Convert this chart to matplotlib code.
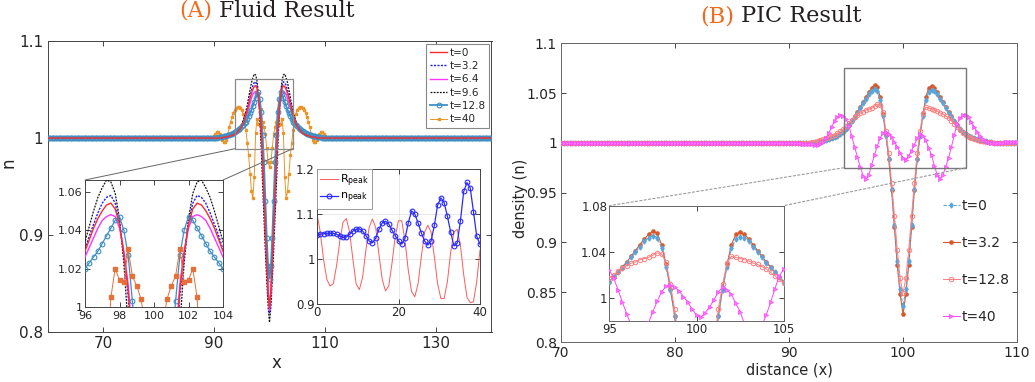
import numpy as np
import matplotlib
matplotlib.use("Agg")
import matplotlib.pyplot as plt
from matplotlib.patches import Rectangle, ConnectionPatch
from matplotlib.ticker import FuncFormatter

# ---------------- data: fluid result (x step 0.25 in the core 90..110) ----------------
fluid_x_core = np.arange(90.0, 110.001, 0.25)
fluid_x_left = np.arange(60.0, 90.0, 0.25)
fluid_x_right = np.arange(110.25, 140.001, 0.25)
fluid_baseline = 1.0

fluid_t0 = [1.000, 1.000, 1.000, 1.000, 1.000, 1.000, 1.000, 1.001, 1.001, 1.001,
            1.001, 1.002, 1.002, 1.003, 1.003, 1.004, 1.005, 1.006, 1.008, 1.010,
            1.012, 1.015, 1.019, 1.024, 1.029, 1.035, 1.041, 1.046, 1.050, 1.053,
            1.054, 1.051, 1.043, 1.028, 1.009, 0.978, 0.941, 0.905, 0.871, 0.842,
            0.825,
            0.842, 0.871, 0.905, 0.941, 0.978, 1.009, 1.028, 1.043, 1.051, 1.054,
            1.053, 1.050, 1.046, 1.041, 1.035, 1.029, 1.024, 1.019, 1.015, 1.012,
            1.010, 1.008, 1.006, 1.005, 1.004, 1.003, 1.003, 1.002, 1.002, 1.001,
            1.001, 1.001, 1.001, 1.000, 1.000, 1.000, 1.000, 1.000, 1.000, 1.000]

fluid_t32 = [1.000, 1.000, 1.000, 1.000, 1.000, 1.000, 1.000, 1.001, 1.001, 1.001,
             1.001, 1.002, 1.002, 1.003, 1.003, 1.004, 1.005, 1.006, 1.008, 1.010,
             1.013, 1.016, 1.020, 1.025, 1.030, 1.037, 1.043, 1.049, 1.054, 1.057,
             1.058, 1.054, 1.044, 1.027, 1.006, 0.973, 0.937, 0.901, 0.867, 0.838,
             0.820,
             0.838, 0.867, 0.901, 0.937, 0.973, 1.006, 1.027, 1.044, 1.054, 1.058,
             1.057, 1.054, 1.049, 1.043, 1.037, 1.030, 1.025, 1.020, 1.016, 1.013,
             1.010, 1.008, 1.006, 1.005, 1.004, 1.003, 1.003, 1.002, 1.002, 1.001,
             1.001, 1.001, 1.001, 1.000, 1.000, 1.000, 1.000, 1.000, 1.000, 1.000]

fluid_t64 = [1.000, 1.000, 1.000, 1.000, 1.000, 1.000, 1.000, 1.001, 1.001, 1.001,
             1.001, 1.002, 1.002, 1.003, 1.003, 1.004, 1.005, 1.006, 1.007, 1.009,
             1.011, 1.014, 1.017, 1.021, 1.026, 1.031, 1.036, 1.041, 1.045, 1.047,
             1.048, 1.047, 1.041, 1.029, 1.012, 0.983, 0.948, 0.911, 0.876, 0.844,
             0.822,
             0.844, 0.876, 0.911, 0.948, 0.983, 1.012, 1.029, 1.041, 1.047, 1.048,
             1.047, 1.045, 1.041, 1.036, 1.031, 1.026, 1.021, 1.017, 1.014, 1.011,
             1.009, 1.007, 1.006, 1.005, 1.004, 1.003, 1.003, 1.002, 1.002, 1.001,
             1.001, 1.001, 1.001, 1.000, 1.000, 1.000, 1.000, 1.000, 1.000, 1.000]

fluid_t96 = [1.000, 1.000, 1.000, 1.000, 1.000, 1.000, 1.000, 1.001, 1.001, 1.001,
             1.001, 1.002, 1.002, 1.003, 1.003, 1.004, 1.005, 1.007, 1.008, 1.011,
             1.014, 1.018, 1.022, 1.028, 1.034, 1.042, 1.050, 1.057, 1.062, 1.066,
             1.065, 1.059, 1.046, 1.023, 0.990, 0.953, 0.918, 0.884, 0.853, 0.826,
             0.810,
             0.826, 0.853, 0.884, 0.918, 0.953, 0.990, 1.023, 1.046, 1.059, 1.065,
             1.066, 1.062, 1.057, 1.050, 1.042, 1.034, 1.028, 1.022, 1.018, 1.014,
             1.011, 1.008, 1.007, 1.005, 1.004, 1.003, 1.003, 1.002, 1.002, 1.001,
             1.001, 1.001, 1.001, 1.000, 1.000, 1.000, 1.000, 1.000, 1.000, 1.000]

fluid_t128 = [1.000, 1.000, 1.000, 1.001, 1.001, 1.001, 1.001, 1.002, 1.002, 1.002,
              1.003, 1.003, 1.004, 1.004, 1.005, 1.006, 1.007, 1.008, 1.009, 1.010,
              1.012, 1.013, 1.015, 1.017, 1.020, 1.023, 1.026, 1.029, 1.033, 1.037,
              1.041, 1.045, 1.047, 1.040, 1.027, 1.003, 0.975, 0.935, 0.897, 0.868,
              0.855,
              0.868, 0.897, 0.935, 0.975, 1.003, 1.027, 1.040, 1.047, 1.045, 1.041,
              1.037, 1.033, 1.029, 1.026, 1.023, 1.020, 1.017, 1.015, 1.013, 1.012,
              1.010, 1.009, 1.008, 1.007, 1.006, 1.005, 1.004, 1.004, 1.003, 1.003,
              1.002, 1.002, 1.002, 1.001, 1.001, 1.001, 1.001, 1.000, 1.000, 1.000]

fluid_t40 = [1.002, 1.004, 1.006, 1.006, 1.004, 1.001, 0.998, 0.996, 0.996, 0.998,
             1.004, 1.011, 1.017, 1.022, 1.026, 1.029, 1.031, 1.032, 1.032, 1.031,
             1.029, 1.025, 1.018, 1.008, 0.995, 0.982, 0.963, 0.945, 0.938, 0.960,
             1.005, 1.020, 1.014, 1.013, 1.030, 1.016, 1.011, 1.004, 0.990, 0.975,
             0.970,
             0.975, 0.990, 1.004, 1.011, 1.016, 1.030, 1.013, 1.014, 1.020, 1.005,
             0.960, 0.938, 0.945, 0.963, 0.982, 0.995, 1.008, 1.018, 1.025, 1.029,
             1.031, 1.032, 1.032, 1.031, 1.029, 1.026, 1.022, 1.017, 1.011, 1.004,
             0.998, 0.996, 0.996, 0.998, 1.001, 1.004, 1.006, 1.006, 1.004, 1.002]

# peak history (t step 0.8)
n_peak = [1.053, 1.055, 1.056, 1.057, 1.057, 1.057, 1.055, 1.051, 1.048, 1.049,
          1.055, 1.062, 1.066, 1.067, 1.062, 1.052, 1.040, 1.036, 1.046, 1.066,
          1.080, 1.084, 1.078, 1.064, 1.052, 1.040, 1.033, 1.046, 1.080, 1.107,
          1.100, 1.080, 1.058, 1.040, 1.031, 1.040, 1.075, 1.120, 1.136, 1.125,
          1.095, 1.060, 1.029, 1.035, 1.085, 1.150, 1.170, 1.158, 1.105, 1.050,
          1.033]
R_peak = [1.100, 1.060, 1.000, 0.955, 0.940, 0.945, 0.985, 1.040, 1.082, 1.090,
          1.060, 1.000, 0.945, 0.932, 0.960, 1.020, 1.070, 1.089, 1.070, 1.010,
          0.955, 0.929, 0.940, 0.990, 1.050, 1.085, 1.085, 1.040, 0.975, 0.928,
          0.916, 0.945, 1.005, 1.060, 1.075, 1.060, 1.005, 0.945, 0.912, 0.912,
          0.950, 1.015, 1.060, 1.066, 1.030, 0.965, 0.915, 0.903, 0.905, 0.950,
          1.020]
t_peak = np.linspace(0, 40, len(n_peak))

# ---------------- data: PIC result (x step 0.25 in the core 90..110) ----------------
pic_x_core = np.arange(90.0, 110.001, 0.25)
pic_x_left = np.arange(70.0, 90.0, 0.25)
pic_baseline = 1.0

pic_t0 = [1.000, 1.000, 1.000, 1.000, 1.000, 1.000, 1.000, 1.000, 1.000, 1.001,
          1.001, 1.002, 1.002, 1.003, 1.004, 1.005, 1.006, 1.007, 1.009, 1.011,
          1.014, 1.018, 1.022, 1.026, 1.030, 1.035, 1.040, 1.044, 1.049, 1.052,
          1.054, 1.052, 1.043, 1.027, 1.007, 0.984, 0.954, 0.918, 0.881, 0.853,
          0.836,
          0.853, 0.881, 0.918, 0.954, 0.984, 1.007, 1.027, 1.043, 1.051, 1.053,
          1.052, 1.049, 1.044, 1.040, 1.035, 1.030, 1.026, 1.022, 1.018, 1.014,
          1.011, 1.009, 1.007, 1.006, 1.005, 1.004, 1.003, 1.002, 1.002, 1.001,
          1.001, 1.000, 1.000, 1.000, 1.000, 1.000, 1.000, 1.000, 1.000, 1.000]

pic_t32 = [1.000, 1.000, 1.000, 1.000, 1.000, 1.000, 1.000, 1.000, 1.000, 1.001,
           1.001, 1.002, 1.002, 1.003, 1.004, 1.005, 1.006, 1.007, 1.009, 1.011,
           1.014, 1.018, 1.022, 1.027, 1.031, 1.036, 1.041, 1.046, 1.051, 1.055,
           1.058, 1.056, 1.046, 1.029, 1.008, 0.984, 0.953, 0.915, 0.877, 0.848,
           0.828,
           0.848, 0.877, 0.915, 0.953, 0.984, 1.008, 1.029, 1.046, 1.055, 1.057,
           1.055, 1.051, 1.046, 1.041, 1.036, 1.031, 1.027, 1.022, 1.018, 1.014,
           1.011, 1.009, 1.007, 1.006, 1.005, 1.004, 1.003, 1.002, 1.002, 1.001,
           1.001, 1.000, 1.000, 1.000, 1.000, 1.000, 1.000, 1.000, 1.000, 1.000]

pic_t128 = [1.000, 1.000, 1.000, 1.000, 1.000, 1.000, 1.000, 1.000, 1.001, 1.001,
            1.002, 1.003, 1.004, 1.005, 1.006, 1.007, 1.008, 1.010, 1.012, 1.014,
            1.017, 1.020, 1.023, 1.026, 1.028, 1.030, 1.031, 1.033, 1.034, 1.035,
            1.037, 1.039, 1.038, 1.031, 1.012, 0.990, 0.960, 0.927, 0.892, 0.864,
            0.849,
            0.864, 0.892, 0.927, 0.960, 0.990, 1.012, 1.030, 1.036, 1.035, 1.034,
            1.033, 1.032, 1.030, 1.029, 1.027, 1.025, 1.022, 1.019, 1.016, 1.013,
            1.010, 1.008, 1.006, 1.005, 1.004, 1.003, 1.002, 1.002, 1.001, 1.001,
            1.001, 1.000, 1.000, 1.000, 1.000, 1.000, 1.000, 1.000, 1.000, 1.000]

pic_t40 = [1.000, 1.000, 1.000, 1.000, 1.000, 0.999, 0.999, 0.999, 0.999, 0.998,
           0.998, 0.999, 1.001, 1.005, 1.010, 1.016, 1.022, 1.026, 1.028, 1.027,
           1.024, 1.017, 1.007, 0.996, 0.986, 0.976, 0.967, 0.964, 0.968, 0.978,
           0.988, 0.997, 1.005, 1.010, 1.011, 1.009, 1.006, 1.001, 0.996, 0.990,
           0.985, 0.983, 0.987, 0.992, 0.998, 1.005, 1.009, 1.007, 1.003, 0.995,
           0.988, 0.977, 0.968, 0.964, 0.968, 0.976, 0.985, 0.996, 1.008, 1.019,
           1.025, 1.028, 1.028, 1.026, 1.021, 1.016, 1.011, 1.007, 1.004, 1.002,
           1.001, 1.000, 1.000, 1.000, 1.000, 1.000, 1.001, 1.001, 1.001, 1.001,
           1.001]


def fluid_full(core):
    x = np.concatenate([fluid_x_left, fluid_x_core, fluid_x_right])
    y = np.concatenate([np.full(len(fluid_x_left), fluid_baseline), core,
                        np.full(len(fluid_x_right), fluid_baseline)])
    return x, y


def pic_full(core):
    x = np.concatenate([pic_x_left, pic_x_core])
    y = np.concatenate([np.full(len(pic_x_left), pic_baseline), core])
    return x, y


W, H = 1035, 382
plt.rcParams['font.family'] = ['DejaVu Sans']
fig = plt.figure(figsize=(W / 100, H / 100), dpi=100)
TXT = '#262626'
ORANGE = '#F26B1D'
gfmt = FuncFormatter(lambda v, p: '%g' % v)


def px_axes(l, t, r, b):
    return fig.add_axes([l / W, 1 - b / H, (r - l) / W, (b - t) / H])


def style(ax, size, spine='#444444'):
    ax.tick_params(direction='in', top=True, right=True, length=3.5, width=0.6,
                   labelsize=size, colors=TXT, pad=3)
    for s in ax.spines.values():
        s.set_color(spine)
        s.set_linewidth(0.7)
    ax.yaxis.set_major_formatter(gfmt)
    ax.xaxis.set_major_formatter(gfmt)


def fluid_plot(ax, inset):
    handles = []
    for core, lab, kw in [
        (fluid_t0, 't=0', dict(color='#ff2a2a', lw=1.0, zorder=6)),
        (fluid_t32, 't=3.2', dict(color='#1a1aff', lw=1.0, ls=(0, (1.5, 1)), zorder=4)),
        (fluid_t64, 't=6.4', dict(color='#ff33ff', lw=1.0, zorder=4)),
        (fluid_t96, 't=9.6', dict(color='#111111', lw=0.9, ls=(0, (1.5, 1)), zorder=3)),
        (fluid_t128, 't=12.8', dict(color='#3d8fc6', lw=0.9 if inset else 1.3,
                                    marker='o', ms=3.4, mfc='none', mew=0.8, zorder=5)),
        (fluid_t40, 't=40', dict(color='#e4703a' if inset else '#eb9528', lw=0.7,
                                 marker='s', ms=2.2 if inset else 1.7,
                                 zorder=7 if inset else 2)),
    ]:
        x, y = fluid_full(core)
        h, = ax.plot(x, y, label=lab, **kw)
        handles.append(h)
    return handles


# ---------------- (A) Fluid Result ----------------
axA = px_axes(47.5, 41, 491.5, 332)
hA = fluid_plot(axA, inset=False)
axA.set_xlim(60, 140)
axA.set_ylim(0.8, 1.1)
axA.set_xticks([70, 90, 110, 130])
axA.set_yticks([0.8, 0.9, 1.0, 1.1])
style(axA, 11)
axA.set_xlabel('x', fontsize=12, color=TXT)
axA.set_ylabel('n', fontsize=12, color=TXT)
axA.xaxis.set_label_coords(0.515, -0.075)
axA.yaxis.set_label_coords(-0.068, 0.58)
leg = axA.legend(handles=hA, loc='upper right', bbox_to_anchor=(0.995, 0.99),
                 borderaxespad=0, fontsize=7.5, handlelength=1.7, handletextpad=0.2,
                 labelspacing=0.32, borderpad=0.35, fancybox=False, framealpha=1)
leg.get_frame().set_edgecolor('#888888')
leg.get_frame().set_linewidth(0.8)
for t in leg.get_texts():
    t.set_color(TXT)
axA.add_patch(Rectangle((93.8, 0.989), 10.4, 0.072, fill=False, ec='#8a8a8a', lw=0.9, zorder=8))

ins1 = px_axes(85, 180, 223, 307)
fluid_plot(ins1, inset=True)
ins1.set_xlim(96, 104)
ins1.set_ylim(1.0, 1.066)
ins1.set_xticks([96, 98, 100, 102, 104])
ins1.set_yticks([1.0, 1.02, 1.04, 1.06])
style(ins1, 8)
ins1.tick_params(axis='x', pad=3.0)
ins1.tick_params(axis='y', pad=1.5)
for xy, corner in [((93.8, 0.989), (0, 1)), ((104.2, 0.989), (1, 1))]:
    fig.add_artist(ConnectionPatch(xyA=xy, coordsA=axA.transData, xyB=corner,
                                   coordsB=ins1.transAxes, color='#666666', lw=0.7))

ins2 = px_axes(317, 169, 480, 304)
hr, = ins2.plot(t_peak, R_peak, color='#ff5a5a', lw=0.7, label=r'R$_{\rm peak}$')
hn, = ins2.plot(t_peak, n_peak, color='#2a2aff', lw=0.9, marker='o', ms=3.4,
                mfc='none', mew=0.8, label=r'n$_{\rm peak}$')
ins2.set_xlim(0, 40)
ins2.set_ylim(0.9, 1.2)
ins2.set_xticks([0, 20, 40])
ins2.set_yticks([0.9, 1.0, 1.1, 1.2])
ins2.grid(True, color='#e4e4e4', lw=0.6)
ins2.set_axisbelow(True)
style(ins2, 8.5)
ins2.tick_params(pad=1.5)
leg2 = ins2.legend(handles=[hr, hn], loc='upper left', borderaxespad=0, fontsize=8,
                   handlelength=1.6, handletextpad=0.15, labelspacing=0.2,
                   borderpad=0.3, fancybox=False, framealpha=1)
leg2.get_frame().set_edgecolor('#999999')
leg2.get_frame().set_linewidth(0.7)

# ---------------- (B) PIC Result ----------------
def pic_plot(ax):
    handles = []
    for core, lab, kw in [
        (pic_t0, 't=0', dict(color='#5aa6dc', lw=0.8, ls=(0, (3, 1.5)), marker='d', ms=2.6, zorder=4)),
        (pic_t32, 't=3.2', dict(color='#d9582b', lw=0.8, marker='o', ms=2.3, zorder=3)),
        (pic_t128, 't=12.8', dict(color='#ff7f7f', lw=0.7, marker='o', ms=3.2, mfc='none', mew=0.7, zorder=5)),
        (pic_t40, 't=40', dict(color='#ff44ff', lw=0.7, marker='>', ms=3.0, mfc='#ff77ff', mew=0.5, zorder=6)),
    ]:
        x, y = pic_full(core)
        h, = ax.plot(x, y, label=lab, **kw)
        handles.append(h)
    return handles


axB = px_axes(561, 43.3, 1017, 342)
hB = pic_plot(axB)
axB.set_xlim(70, 110)
axB.set_ylim(0.8, 1.1)
axB.set_xticks([70, 80, 90, 100, 110])
axB.set_yticks([0.8, 0.85, 0.9, 0.95, 1.0, 1.05, 1.1])
style(axB, 10, spine='#666666')
axB.set_xlabel('distance (x)', fontsize=10.5, color=TXT)
axB.set_ylabel('density (n)', fontsize=10.5, color=TXT)
axB.xaxis.set_label_coords(0.5, -0.068)
axB.yaxis.set_label_coords(-0.072, 0.48)
legB = axB.legend(handles=hB, loc='upper left', bbox_to_anchor=(0.838, 0.478),
                  borderaxespad=0, frameon=False, fontsize=10, handlelength=1.2,
                  handletextpad=0.15, labelspacing=1.65, borderpad=0)
for t in legB.get_texts():
    t.set_color(TXT)
axB.add_patch(Rectangle((94.8, 0.975), 10.7, 0.1, fill=False, ec='#777777', lw=1.0, zorder=8))

ins3 = px_axes(609.3, 205.7, 783.7, 320.7)
pic_plot(ins3)
ins3.set_xlim(95, 105)
ins3.set_ylim(0.98, 1.08)
ins3.set_xticks([95, 100, 105])
ins3.set_yticks([1.0, 1.04, 1.08])
style(ins3, 8.5, spine='#666666')
ins3.tick_params(pad=1.5)
for xy, corner in [((94.8, 0.975), (0, 1)), ((105.5, 0.975), (1, 1))]:
    fig.add_artist(ConnectionPatch(xyA=xy, coordsA=axB.transData, xyB=corner,
                                   coordsB=ins3.transAxes, color='#9a9a9a', lw=0.8, ls=(0, (2, 2))))

# ---------------- two-tone titles ----------------
renderer = fig.canvas.get_renderer()


def title_two_tone(xc_px, base_px, head, rest, size):
    kw = dict(fontsize=size, family='DejaVu Serif', va='baseline')
    probe = fig.text(0, 0, head + ' ' + rest, **kw)
    w_full = probe.get_window_extent(renderer).width
    probe.remove()
    x0 = xc_px - w_full / 2
    y = 1 - base_px / H
    fig.text(x0 / W, y, head, color=ORANGE, ha='left', **kw)
    fig.text((x0 + w_full) / W, y, rest, color='#231f20', ha='right', **kw)


title_two_tone(267, 17, '(A)', 'Fluid Result', 15.8)
title_two_tone(781, 22, '(B)', 'PIC Result', 16.2)

fig.savefig('out.png', dpi=100)
